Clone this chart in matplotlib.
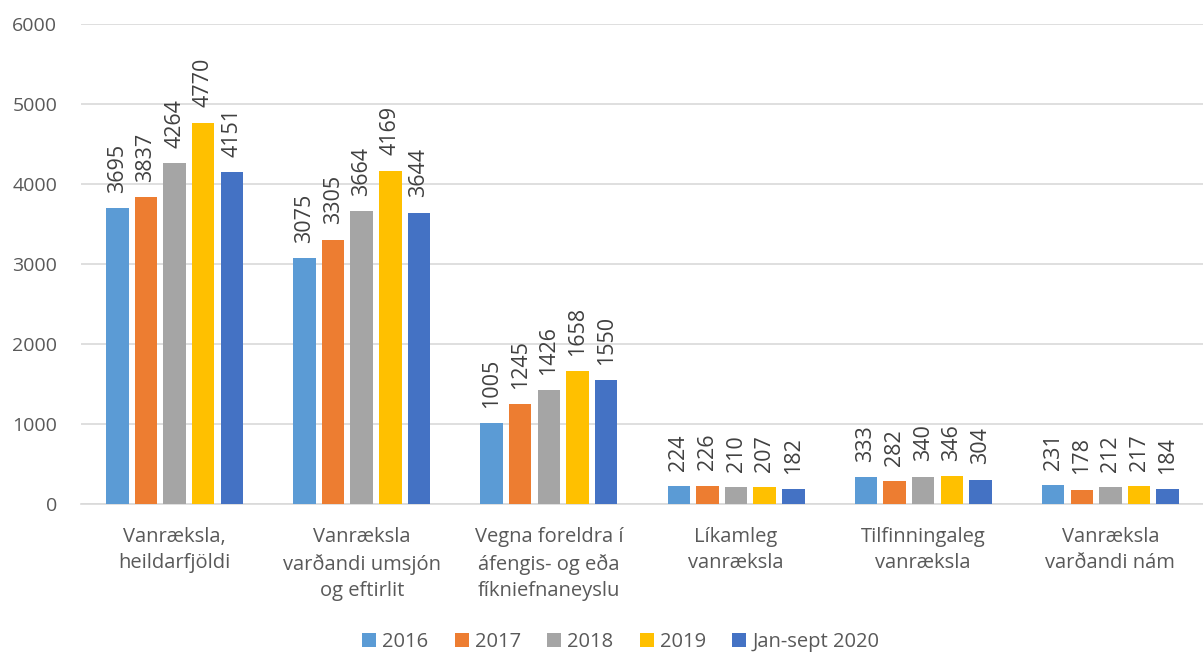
import matplotlib
matplotlib.use("Agg")
import matplotlib.pyplot as plt
import numpy as np

categories = ["Vanræksla,\nheildarfjöldi", "Vanræksla\nvarðandi umsjón\nog eftirlit",
              "Vegna foreldra í\náfengis- og eða\nfíkniefnaneyslu", "Líkamleg\nvanræksla",
              "Tilfinningaleg\nvanræksla", "Vanræksla\nvarðandi nám"]
series_names = ["2016", "2017", "2018", "2019", "Jan-sept 2020"]
v2016 = [3695, 3075, 1005, 224, 333, 231]
v2017 = [3837, 3305, 1245, 226, 282, 178]
v2018 = [4264, 3664, 1426, 210, 340, 212]
v2019 = [4770, 4169, 1658, 207, 346, 217]
v2020 = [4151, 3644, 1550, 182, 304, 184]
series = [v2016, v2017, v2018, v2019, v2020]
colors = ["#5B9BD5", "#ED7D31", "#A5A5A5", "#FFC000", "#4472C4"]

plt.rcParams['font.family'] = ['Open Sans', 'DejaVu Sans']
fig = plt.figure(figsize=(12.03, 6.56), dpi=100)
ax = fig.add_axes([0.0673, 0.232, 0.9335, 0.731])

x = np.arange(len(categories))
w = 0.12
step = 0.153
for i, (vals, c, name) in enumerate(zip(series, colors, series_names)):
    pos = x + (i - 2) * step
    ax.bar(pos, vals, width=w, color=c, label=name, zorder=3)
    for p, v in zip(pos, vals):
        ax.annotate(str(v), (p, v), xytext=(0, 11), textcoords='offset points',
                    rotation=90, ha='center', va='bottom',
                    fontsize=15.5, color='#404040')

ax.set_ylim(0, 6000)
ax.set_xlim(-0.5, len(categories) - 0.5)
ax.set_yticks(range(0, 6001, 1000))
ax.yaxis.grid(True, color='#D9D9D9', linewidth=1.2, zorder=0)
ax.set_axisbelow(True)
for s in ['top', 'right', 'left']:
    ax.spines[s].set_visible(False)
ax.spines['bottom'].set_color('#D9D9D9')
ax.spines['bottom'].set_linewidth(1.2)
ax.tick_params(axis='both', length=0, labelsize=14, colors='#595959')
ax.tick_params(axis='y', pad=17)
ax.set_xticks(x)
ax.set_xticklabels(categories, fontsize=14.5, color='#595959', linespacing=1.4)
ax.tick_params(axis='x', pad=17)

leg = fig.legend(loc='lower center', ncol=5, frameon=False, fontsize=14.5,
                 bbox_to_anchor=(0.516, -0.022), handlelength=0.7, handleheight=0.7,
                 columnspacing=1.3, handletextpad=0.3)
for t in leg.get_texts():
    t.set_color('#595959')

fig.savefig("out.png", dpi=100)
